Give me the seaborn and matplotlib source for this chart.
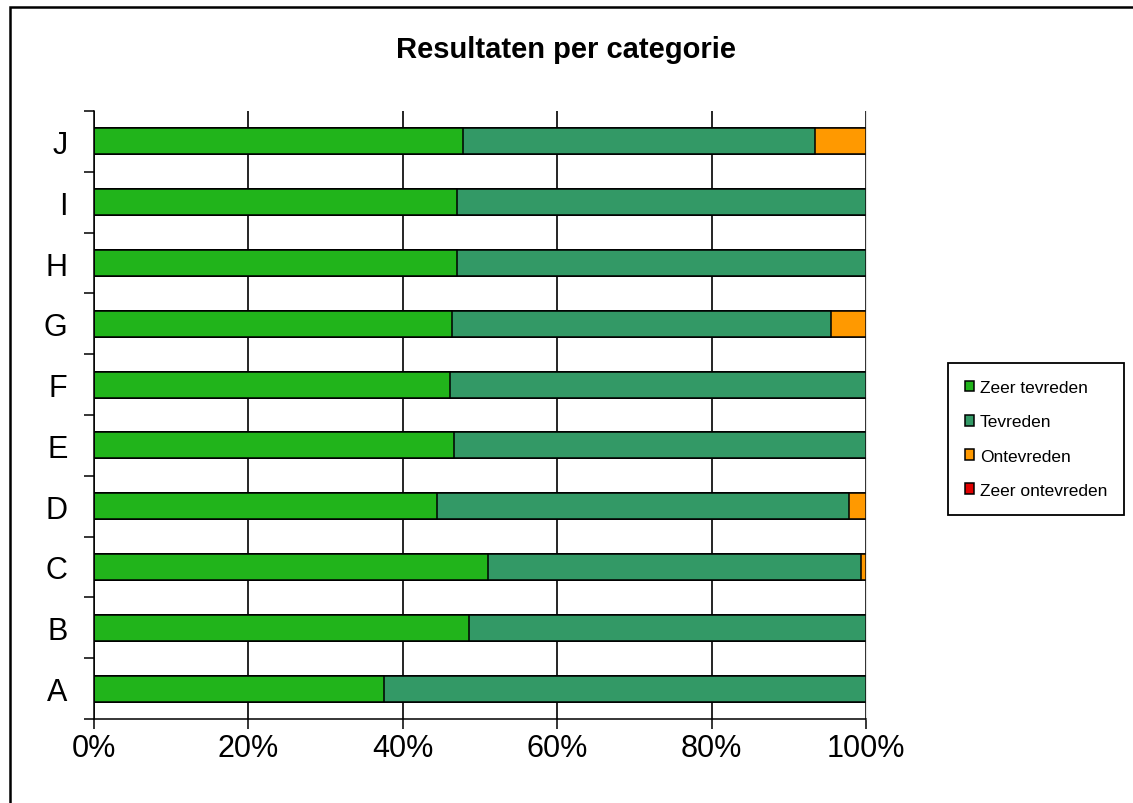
import numpy as np
import pandas as pd
import seaborn as sns
import matplotlib.pyplot as plt
from matplotlib.patches import Patch, Rectangle

# Gegevens (percentages per categorie)
categorieen = ['A', 'B', 'C', 'D', 'E', 'F', 'G', 'H', 'I', 'J']
zeer_tevreden = [37.6, 48.6, 51.0, 44.4, 46.6, 46.1, 46.4, 47.0, 47.0, 47.8]
tevreden = [62.4, 51.4, 48.4, 53.4, 53.4, 53.9, 49.1, 53.0, 53.0, 45.6]
ontevreden = [0.0, 0.0, 0.6, 2.2, 0.0, 0.0, 4.5, 0.0, 0.0, 6.6]
zeer_ontevreden = [0.0, 0.0, 0.0, 0.0, 0.0, 0.0, 0.0, 0.0, 0.0, 0.0]

reeksen = ['Zeer tevreden', 'Tevreden', 'Ontevreden', 'Zeer ontevreden']
kleuren = ['#21b41b', '#339966', '#ff9900', '#e00000']
x_ticks = [0, 20, 40, 60, 80, 100]

df = pd.DataFrame({
    'Categorie': categorieen,
    'Zeer tevreden': zeer_tevreden,
    'Tevreden': tevreden,
    'Ontevreden': ontevreden,
    'Zeer ontevreden': zeer_ontevreden,
})

sns.set_style('white')
plt.rcParams['font.family'] = ['Liberation Sans', 'DejaVu Sans']
plt.rcParams['text.color'] = 'black'
plt.rcParams['xtick.color'] = 'black'
plt.rcParams['ytick.color'] = 'black'

fig = plt.figure(figsize=(11.33, 8.04), dpi=100)
ax = fig.add_axes([94 / 1133, 1 - 720 / 804, (866 - 94) / 1133, (720 - 112) / 804])

volgorde = categorieen[::-1]  # J bovenaan

# Gestapelde balken: cumulatief tekenen, grootste eerst
for i in range(len(reeksen) - 1, -1, -1):
    cum = df[reeksen[:i + 1]].sum(axis=1)
    sns.barplot(x=cum, y=df['Categorie'], order=volgorde, color=kleuren[i],
                saturation=1, edgecolor='black', linewidth=1.1, width=0.43,
                orient='h', ax=ax)

ax.set_xlim(0, 100)
ax.set_ylim(9.5, -0.5)
ax.set_xticks(x_ticks)
ax.set_xticklabels([f'{v}%' for v in x_ticks], fontsize=22)
ax.set_yticks(range(len(volgorde)))
ax.set_yticklabels(volgorde, fontsize=22)
ax.set_yticks(np.arange(-0.5, 10, 1), minor=True)
ax.tick_params(axis='y', which='major', length=0, pad=19)
ax.tick_params(axis='y', which='minor', left=True, length=7, width=1.1, color='black')
ax.tick_params(axis='x', bottom=True, length=7, width=1.1, color='black', pad=3)
ax.set_xlabel('')
ax.set_ylabel('')

ax.grid(axis='x', color='black', linewidth=1.2)
ax.set_axisbelow(True)
for side in ['left', 'bottom']:
    ax.spines[side].set_color('black')
    ax.spines[side].set_linewidth(1.1)
ax.spines['top'].set_visible(False)
ax.spines['right'].set_color('#e6e6e6')

fig.text(0.5, 1 - 50 / 804, 'Resultaten per categorie', ha='center', va='center',
         fontsize=21, fontweight='bold', color='black')

handles = [Patch(facecolor=c, edgecolor='black', linewidth=1.1) for c in kleuren]
leg = fig.legend(handles, reeksen, loc='center', bbox_to_anchor=(1036 / 1133, 1 - 440 / 804),
                 fontsize=12.5, frameon=True, fancybox=False, edgecolor='black', framealpha=1,
                 handlelength=0.55, handleheight=0.55, handletextpad=0.3, labelspacing=1.1,
                 borderpad=1.0, borderaxespad=0)
leg.get_frame().set_linewidth(1.3)

# Kader rond de hele grafiek
fig.patches.append(Rectangle((10 / 1133, -0.01), 1.0, 1 - 8 / 804 + 0.01, transform=fig.transFigure,
                             fill=False, edgecolor='black', linewidth=1.8))

fig.savefig('out.png', dpi=100)
